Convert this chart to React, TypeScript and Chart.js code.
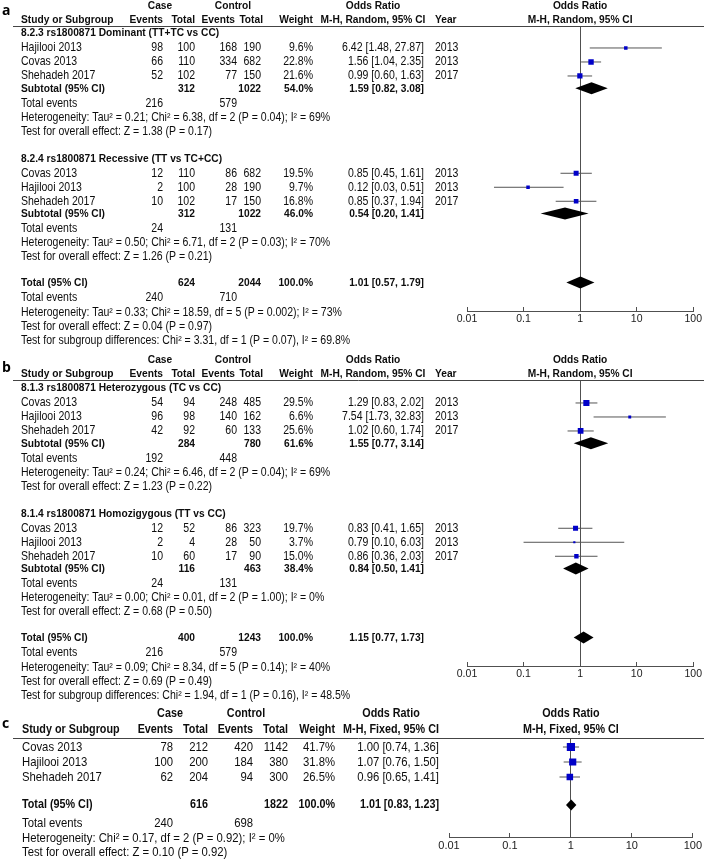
import React, { useEffect, useRef } from "react";
import { Chart, registerables } from "chart.js";

Chart.register(...registerables);

const FONT = '"Liberation Sans", Arial, Helvetica, sans-serif';

// ---------- axis ----------
const tickValues = [0.01, 0.1, 1, 10, 100];
const tickLabels = ["0.01", "0.1", "1", "10", "100"];

// ---------- panel a : 8.2.3 ----------
const a1Title = "8.2.3 rs1800871 Dominant (TT+TC vs CC)";
const a1Studies = ["Hajilooi 2013", "Covas 2013", "Shehadeh 2017"];
const a1CaseEvents = [98, 66, 52];
const a1CaseTotal = [100, 110, 102];
const a1CtrlEvents = [168, 334, 77];
const a1CtrlTotal = [190, 682, 150];
const a1Weight = [9.6, 22.8, 21.6];
const a1OR = [6.42, 1.56, 0.99];
const a1Low = [1.48, 1.04, 0.6];
const a1High = [27.87, 2.35, 1.63];
const a1Year = [2013, 2013, 2017];
const a1Subtotal = [312, 1022, 54.0, 1.59, 0.82, 3.08];
const a1TotalEvents = [216, 579];
const a1Stats = [
  "Heterogeneity: Tau² = 0.21; Chi² = 6.38, df = 2 (P = 0.04); I² = 69%",
  "Test for overall effect: Z = 1.38 (P = 0.17)",
];

// ---------- panel a : 8.2.4 ----------
const a2Title = "8.2.4 rs1800871 Recessive (TT vs TC+CC)";
const a2Studies = ["Covas 2013", "Hajilooi 2013", "Shehadeh 2017"];
const a2CaseEvents = [12, 2, 10];
const a2CaseTotal = [110, 100, 102];
const a2CtrlEvents = [86, 28, 17];
const a2CtrlTotal = [682, 190, 150];
const a2Weight = [19.5, 9.7, 16.8];
const a2OR = [0.85, 0.12, 0.85];
const a2Low = [0.45, 0.03, 0.37];
const a2High = [1.61, 0.51, 1.94];
const a2Year = [2013, 2013, 2017];
const a2Subtotal = [312, 1022, 46.0, 0.54, 0.2, 1.41];
const a2TotalEvents = [24, 131];
const a2Stats = [
  "Heterogeneity: Tau² = 0.50; Chi² = 6.71, df = 2 (P = 0.03); I² = 70%",
  "Test for overall effect: Z = 1.26 (P = 0.21)",
];

// ---------- panel a : total ----------
const aTotal = [624, 2044, 100.0, 1.01, 0.57, 1.79];
const aTotalEvents = [240, 710];
const aTotalStats = [
  "Heterogeneity: Tau² = 0.33; Chi² = 18.59, df = 5 (P = 0.002); I² = 73%",
  "Test for overall effect: Z = 0.04 (P = 0.97)",
  "Test for subgroup differences: Chi² = 3.31, df = 1 (P = 0.07), I² = 69.8%",
];

// ---------- panel b : 8.1.3 ----------
const b1Title = "8.1.3 rs1800871 Heterozygous (TC vs CC)";
const b1Studies = ["Covas 2013", "Hajilooi 2013", "Shehadeh 2017"];
const b1CaseEvents = [54, 96, 42];
const b1CaseTotal = [94, 98, 92];
const b1CtrlEvents = [248, 140, 60];
const b1CtrlTotal = [485, 162, 133];
const b1Weight = [29.5, 6.6, 25.6];
const b1OR = [1.29, 7.54, 1.02];
const b1Low = [0.83, 1.73, 0.6];
const b1High = [2.02, 32.83, 1.74];
const b1Year = [2013, 2013, 2017];
const b1Subtotal = [284, 780, 61.6, 1.55, 0.77, 3.14];
const b1TotalEvents = [192, 448];
const b1Stats = [
  "Heterogeneity: Tau² = 0.24; Chi² = 6.46, df = 2 (P = 0.04); I² = 69%",
  "Test for overall effect: Z = 1.23 (P = 0.22)",
];

// ---------- panel b : 8.1.4 ----------
const b2Title = "8.1.4 rs1800871 Homozigygous (TT vs CC)";
const b2Studies = ["Covas 2013", "Hajilooi 2013", "Shehadeh 2017"];
const b2CaseEvents = [12, 2, 10];
const b2CaseTotal = [52, 4, 60];
const b2CtrlEvents = [86, 28, 17];
const b2CtrlTotal = [323, 50, 90];
const b2Weight = [19.7, 3.7, 15.0];
const b2OR = [0.83, 0.79, 0.86];
const b2Low = [0.41, 0.1, 0.36];
const b2High = [1.65, 6.03, 2.03];
const b2Year = [2013, 2013, 2017];
const b2Subtotal = [116, 463, 38.4, 0.84, 0.5, 1.41];
const b2TotalEvents = [24, 131];
const b2Stats = [
  "Heterogeneity: Tau² = 0.00; Chi² = 0.01, df = 2 (P = 1.00); I² = 0%",
  "Test for overall effect: Z = 0.68 (P = 0.50)",
];

// ---------- panel b : total ----------
const bTotal = [400, 1243, 100.0, 1.15, 0.77, 1.73];
const bTotalEvents = [216, 579];
const bTotalStats = [
  "Heterogeneity: Tau² = 0.09; Chi² = 8.34, df = 5 (P = 0.14); I² = 40%",
  "Test for overall effect: Z = 0.69 (P = 0.49)",
  "Test for subgroup differences: Chi² = 1.94, df = 1 (P = 0.16), I² = 48.5%",
];

// ---------- panel c ----------
const cStudies = ["Covas 2013", "Hajilooi 2013", "Shehadeh 2017"];
const cCaseEvents = [78, 100, 62];
const cCaseTotal = [212, 200, 204];
const cCtrlEvents = [420, 184, 94];
const cCtrlTotal = [1142, 380, 300];
const cWeight = [41.7, 31.8, 26.5];
const cOR = [1.0, 1.07, 0.96];
const cLow = [0.74, 0.76, 0.65];
const cHigh = [1.36, 1.5, 1.41];
const cTotal = [616, 1822, 100.0, 1.01, 0.83, 1.23];
const cTotalEvents = [240, 698];
const cTotalStats = [
  "Heterogeneity: Chi² = 0.17, df = 2 (P = 0.92); I² = 0%",
  "Test for overall effect: Z = 0.10 (P = 0.92)",
];

// ---------- types ----------
interface Group {
  title: string | null;
  names: string[];
  ce: number[];
  ct: number[];
  oe: number[];
  ot: number[];
  w: number[];
  or: number[];
  lo: number[];
  hi: number[];
  year: number[] | null;
  sub: number[] | null;
  events: number[] | null;
  stats: string[];
}

function group(
  title: string | null,
  names: string[],
  ce: number[],
  ct: number[],
  oe: number[],
  ot: number[],
  w: number[],
  or: number[],
  lo: number[],
  hi: number[],
  year: number[] | null,
  sub: number[] | null,
  events: number[] | null,
  stats: string[]
): Group {
  return { title, names, ce, ct, oe, ot, w, or, lo, hi, year, sub, events, stats };
}

interface Steps {
  afterTitle: number;
  study: number;
  toSub: number;
  toEvents: number;
  stat: number;
  groupGap: number;
  toTotal: number;
  totalToEvents: number;
  totalToHet: number;
  totalStat: number;
}

interface Cols {
  study: number;
  caseEv: number;
  caseTot: number;
  ctrlEv: number;
  ctrlTot: number;
  ctrlEvHead: number;
  ctrlTotHead: number;
  weight: number;
  orR: number;
  year: number;
  caseHead: number;
  ctrlHead: number;
  orHead: number;
}

interface PanelSpec {
  top: number;
  height: number;
  label: string;
  labelX: number;
  labelBaseline: number;
  y0: number;
  lineH: number;
  headerLine: number;
  axisY: number;
  h1: number;
  h2: number;
  plotLeft: number;
  plotRight: number;
  lineLeft: number;
  lineRight: number;
  fontR: number;
  sxR: number;
  fontB: number;
  sxB: number;
  tickFont: number;
  boxK: number;
  diamondH: number;
  cols: Cols;
  method: string;
  groups: Group[];
  total: number[];
  totalEvents: number[];
  totalStats: string[];
  steps: Steps;
}

const colsAB: Cols = {
  study: 21,
  caseEv: 163,
  caseTot: 195,
  ctrlEv: 237,
  ctrlTot: 261,
  ctrlEvHead: 235,
  ctrlTotHead: 263,
  weight: 313,
  orR: 424,
  year: 435,
  caseHead: 160,
  ctrlHead: 233,
  orHead: 373,
};

const stepsAB: Steps = {
  afterTitle: 1.07,
  study: 1,
  toSub: 0.88,
  toEvents: 1.07,
  stat: 1,
  groupGap: 1.93,
  toTotal: 1.86,
  totalToEvents: 1.07,
  totalToHet: 1.07,
  totalStat: 1,
};

const panels: PanelSpec[] = [
  {
    top: 0,
    height: 350,
    label: "a",
    labelX: 2,
    labelBaseline: 15,
    y0: 33,
    lineH: 14,
    headerLine: 26,
    axisY: 311,
    h1: 6,
    h2: 20,
    plotLeft: 467,
    plotRight: 699,
    lineLeft: 13,
    lineRight: 704,
    fontR: 11.9,
    sxR: 0.885,
    fontB: 11.6,
    sxB: 0.88,
    tickFont: 10.5,
    boxK: 0.8,
    diamondH: 6,
    cols: colsAB,
    method: "M-H, Random, 95% CI",
    groups: [
      group(a1Title, a1Studies, a1CaseEvents, a1CaseTotal, a1CtrlEvents, a1CtrlTotal, a1Weight, a1OR, a1Low, a1High, a1Year, a1Subtotal, a1TotalEvents, a1Stats),
      group(a2Title, a2Studies, a2CaseEvents, a2CaseTotal, a2CtrlEvents, a2CtrlTotal, a2Weight, a2OR, a2Low, a2High, a2Year, a2Subtotal, a2TotalEvents, a2Stats),
    ],
    total: aTotal,
    totalEvents: aTotalEvents,
    totalStats: aTotalStats,
    steps: stepsAB,
  },
  {
    top: 350,
    height: 354,
    label: "b",
    labelX: 2,
    labelBaseline: 372,
    y0: 388,
    lineH: 14,
    headerLine: 380,
    axisY: 666,
    h1: 360,
    h2: 374,
    plotLeft: 467,
    plotRight: 699,
    lineLeft: 13,
    lineRight: 704,
    fontR: 11.9,
    sxR: 0.885,
    fontB: 11.6,
    sxB: 0.88,
    tickFont: 10.5,
    boxK: 0.8,
    diamondH: 6,
    cols: colsAB,
    method: "M-H, Random, 95% CI",
    groups: [
      group(b1Title, b1Studies, b1CaseEvents, b1CaseTotal, b1CtrlEvents, b1CtrlTotal, b1Weight, b1OR, b1Low, b1High, b1Year, b1Subtotal, b1TotalEvents, b1Stats),
      group(b2Title, b2Studies, b2CaseEvents, b2CaseTotal, b2CtrlEvents, b2CtrlTotal, b2Weight, b2OR, b2Low, b2High, b2Year, b2Subtotal, b2TotalEvents, b2Stats),
    ],
    total: bTotal,
    totalEvents: bTotalEvents,
    totalStats: bTotalStats,
    steps: stepsAB,
  },
  {
    top: 704,
    height: 157,
    label: "c",
    labelX: 2,
    labelBaseline: 728,
    y0: 747,
    lineH: 15,
    headerLine: 738,
    axisY: 837,
    h1: 714,
    h2: 730,
    plotLeft: 449,
    plotRight: 698,
    lineLeft: 13,
    lineRight: 704,
    fontR: 13,
    sxR: 0.87,
    fontB: 12.4,
    sxB: 0.87,
    tickFont: 11,
    boxK: 0.9,
    diamondH: 5.5,
    cols: {
      study: 22,
      caseEv: 173,
      caseTot: 208,
      ctrlEv: 253,
      ctrlTot: 288,
      ctrlEvHead: 253,
      ctrlTotHead: 288,
      weight: 335,
      orR: 439,
      year: -1,
      caseHead: 170,
      ctrlHead: 246,
      orHead: 391,
    },
    method: "M-H, Fixed, 95% CI",
    groups: [
      group(null, cStudies, cCaseEvents, cCaseTotal, cCtrlEvents, cCtrlTotal, cWeight, cOR, cLow, cHigh, null, null, null, []),
    ],
    total: cTotal,
    totalEvents: cTotalEvents,
    totalStats: cTotalStats,
    steps: {
      afterTitle: 1,
      study: 1,
      toSub: 1,
      toEvents: 1,
      stat: 1,
      groupGap: 2,
      toTotal: 1.87,
      totalToEvents: 1.2,
      totalToHet: 1.0,
      totalStat: 0.93,
    },
  },
];

interface Item {
  t: string;
  x: number;
  s: number;
  a: CanvasTextAlign;
  b: boolean;
}

const ciText = (or: number, lo: number, hi: number) =>
  `${or.toFixed(2)} [${lo.toFixed(2)}, ${hi.toFixed(2)}]`;

function build(p: PanelSpec) {
  const items: Item[] = [];
  const boxes: { x: number; y: number; r: number }[] = [];
  const cis: { lo: number; hi: number; y: number }[] = [];
  const diamonds: { or: number; lo: number; hi: number; y: number }[] = [];
  const c = p.cols;
  const st = p.steps;
  const T = (t: string, x: number, s: number, a: CanvasTextAlign, b = false) =>
    items.push({ t, x, s, a, b });

  const h1 = (p.h1 - p.y0) / p.lineH;
  const h2 = (p.h2 - p.y0) / p.lineH;
  T("Case", c.caseHead, h1, "center", true);
  T("Control", c.ctrlHead, h1, "center", true);
  T("Odds Ratio", c.orHead, h1, "center", true);
  T("Study or Subgroup", c.study, h2, "left", true);
  T("Events", c.caseEv, h2, "right", true);
  T("Total", c.caseTot, h2, "right", true);
  T("Events", c.ctrlEvHead, h2, "right", true);
  T("Total", c.ctrlTotHead, h2, "right", true);
  T("Weight", c.weight, h2, "right", true);
  T(p.method, c.orHead, h2, "center", true);
  if (c.year > 0) T("Year", c.year, h2, "left", true);

  let s = 0;
  p.groups.forEach((g, gi) => {
    if (gi > 0) s += st.groupGap;
    if (g.title) {
      T(g.title, c.study, s, "left", true);
      s += st.afterTitle;
    }
    g.names.forEach((name, i) => {
      if (i > 0) s += st.study;
      T(name, c.study, s, "left");
      T(String(g.ce[i]), c.caseEv, s, "right");
      T(String(g.ct[i]), c.caseTot, s, "right");
      T(String(g.oe[i]), c.ctrlEv, s, "right");
      T(String(g.ot[i]), c.ctrlTot, s, "right");
      T(g.w[i].toFixed(1) + "%", c.weight, s, "right");
      T(ciText(g.or[i], g.lo[i], g.hi[i]), c.orR, s, "right");
      if (g.year) T(String(g.year[i]), c.year, s, "left");
      boxes.push({ x: g.or[i], y: s, r: p.boxK * Math.sqrt(g.w[i]) });
      cis.push({ lo: g.lo[i], hi: g.hi[i], y: s });
    });
    if (g.sub) {
      s += st.toSub;
      T("Subtotal (95% CI)", c.study, s, "left", true);
      T(String(g.sub[0]), c.caseTot, s, "right", true);
      T(String(g.sub[1]), c.ctrlTot, s, "right", true);
      T(g.sub[2].toFixed(1) + "%", c.weight, s, "right", true);
      T(ciText(g.sub[3], g.sub[4], g.sub[5]), c.orR, s, "right", true);
      diamonds.push({ or: g.sub[3], lo: g.sub[4], hi: g.sub[5], y: s });
    }
    if (g.events) {
      s += st.toEvents;
      T("Total events", c.study, s, "left");
      T(String(g.events[0]), c.caseEv, s, "right");
      T(String(g.events[1]), c.ctrlEv, s, "right");
    }
    g.stats.forEach((t) => {
      s += st.stat;
      T(t, c.study, s, "left");
    });
  });

  s += st.toTotal;
  T("Total (95% CI)", c.study, s, "left", true);
  T(String(p.total[0]), c.caseTot, s, "right", true);
  T(String(p.total[1]), c.ctrlTot, s, "right", true);
  T(p.total[2].toFixed(1) + "%", c.weight, s, "right", true);
  T(ciText(p.total[3], p.total[4], p.total[5]), c.orR, s, "right", true);
  diamonds.push({ or: p.total[3], lo: p.total[4], hi: p.total[5], y: s });

  s += st.totalToEvents;
  T("Total events", c.study, s, "left");
  T(String(p.totalEvents[0]), c.caseEv, s, "right");
  T(String(p.totalEvents[1]), c.ctrlEv, s, "right");
  p.totalStats.forEach((t, i) => {
    s += i === 0 ? st.totalToHet : st.totalStat;
    T(t, c.study, s, "left");
  });

  return { items, boxes, cis, diamonds };
}

const X_AXIS_H = 20;

function ForestPanel({ p }: { p: PanelSpec }) {
  const ref = useRef<HTMLCanvasElement | null>(null);

  useEffect(() => {
    const canvas = ref.current;
    if (!canvas) return;
    const { items, boxes, cis, diamonds } = build(p);

    const drawText = (
      ctx: CanvasRenderingContext2D,
      t: string,
      x: number,
      y: number,
      a: CanvasTextAlign,
      bold: boolean
    ) => {
      ctx.save();
      ctx.font = `${bold ? "bold " : ""}${bold ? p.fontB : p.fontR}px ${FONT}`;
      ctx.textAlign = a;
      ctx.textBaseline = "middle";
      ctx.translate(x, y);
      ctx.scale(bold ? p.sxB : p.sxR, 1);
      ctx.fillText(t, 0, 0);
      ctx.restore();
    };

    const tablePlugin = {
      id: "forestTable",
      afterDatasetsDraw(chart: any) {
        const ctx = chart.ctx as CanvasRenderingContext2D;
        const xs = chart.scales.x;
        const ys = chart.scales.y;
        const ds = chart.data.datasets.find((d: any) => d.isDiamond);
        if (!ds) return;
        ctx.save();
        ctx.fillStyle = "#000";
        (ds.data as any[]).forEach((d) => {
          const xl = xs.getPixelForValue(d.lo);
          const xc = xs.getPixelForValue(d.x);
          const xr = xs.getPixelForValue(d.hi);
          const yc = ys.getPixelForValue(d.y);
          ctx.beginPath();
          ctx.moveTo(xl, yc);
          ctx.lineTo(xc, yc - p.diamondH);
          ctx.lineTo(xr, yc);
          ctx.lineTo(xc, yc + p.diamondH);
          ctx.closePath();
          ctx.fill();
        });
        ctx.restore();
      },
      afterDraw(chart: any) {
        const ctx = chart.ctx as CanvasRenderingContext2D;
        const ys = chart.scales.y;
        const area = chart.chartArea;
        ctx.save();
        // header rule
        ctx.strokeStyle = "#444444";
        ctx.lineWidth = 1;
        const ly = Math.round(p.headerLine - p.top) + 0.5;
        ctx.beginPath();
        ctx.moveTo(p.lineLeft, ly);
        ctx.lineTo(p.lineRight, ly);
        ctx.stroke();
        // table text
        ctx.fillStyle = "#0d0d0d";
        items.forEach((it) => {
          drawText(ctx, it.t, it.x, ys.getPixelForValue(it.s), it.a, it.b);
        });
        // plot headers
        const cx = (area.left + area.right) / 2;
        drawText(ctx, "Odds Ratio", cx, ys.getPixelForValue((p.h1 - p.y0) / p.lineH), "center", true);
        drawText(ctx, p.method, cx, ys.getPixelForValue((p.h2 - p.y0) / p.lineH), "center", true);
        // panel label
        ctx.font = `bold 14px "Open Sans", ${FONT}`;
        ctx.textAlign = "left";
        ctx.textBaseline = "alphabetic";
        ctx.fillStyle = "#000";
        ctx.fillText(p.label, p.labelX, p.labelBaseline - p.top);
        ctx.restore();
      },
    };

    const datasets: any[] = [
      {
        data: boxes.map((b) => ({ x: b.x, y: b.y })),
        pointStyle: "rect",
        pointRadius: boxes.map((b) => b.r),
        pointBackgroundColor: "#0000c8",
        pointBorderColor: "#0000c8",
        pointBorderWidth: 0,
        showLine: false,
        order: 0,
      },
      ...cis.map((c) => ({
        data: [
          { x: c.lo, y: c.y },
          { x: c.hi, y: c.y },
        ],
        showLine: true,
        borderColor: "#555555",
        borderWidth: 1,
        pointRadius: 0,
        order: 1,
      })),
      {
        isDiamond: true,
        data: diamonds.map((d) => ({ x: d.or, y: d.y, lo: d.lo, hi: d.hi })),
        pointRadius: 0,
        showLine: false,
        order: 2,
      },
    ];

    const chart = new Chart(canvas, {
      type: "scatter",
      data: { datasets },
      options: {
        responsive: false,
        maintainAspectRatio: false,
        animation: false,
        devicePixelRatio: 1,
        events: [],
        layout: {
          padding: {
            left: p.plotLeft,
            right: 708 - p.plotRight,
            top: p.headerLine - p.top,
            bottom: p.top + p.height - p.axisY - X_AXIS_H,
          },
        },
        plugins: {
          legend: { display: false },
          tooltip: { enabled: false },
          title: { display: false },
        },
        scales: {
          x: {
            type: "logarithmic",
            min: 0.01,
            max: 100,
            position: "bottom",
            afterBuildTicks: (ax: any) => {
              ax.ticks = tickValues.map((v) => ({ value: v }));
            },
            afterFit: (ax: any) => {
              ax.height = X_AXIS_H;
            },
            ticks: {
              callback: (_v: any, i: number) => tickLabels[i],
              autoSkip: false,
              maxRotation: 0,
              minRotation: 0,
              padding: 6,
              color: "#1a1a1a",
              font: { family: FONT, size: p.tickFont },
            },
            grid: {
              color: (ctx: any) =>
                ctx.tick && ctx.tick.value === 1 ? "#505050" : "rgba(0,0,0,0)",
              tickColor: "#505050",
              tickLength: -4,
              drawTicks: true,
              lineWidth: 1,
            },
            border: { display: true, color: "#505050", width: 1 },
          },
          y: {
            type: "linear",
            display: false,
            reverse: true,
            min: (p.headerLine - p.y0) / p.lineH,
            max: (p.axisY - p.y0) / p.lineH,
          },
        },
      } as any,
      plugins: [tablePlugin as any],
    });

    return () => chart.destroy();
  }, [p]);

  return (
    <canvas
      ref={ref}
      width={708}
      height={p.height}
      style={{
        position: "absolute",
        left: 0,
        top: p.top,
        width: 708,
        height: p.height,
        display: "block",
      }}
    />
  );
}

export default function App() {
  return (
    <div
      style={{
        position: "absolute",
        left: 0,
        top: 0,
        width: 708,
        height: 861,
        background: "#ffffff",
        overflow: "hidden",
      }}
    >
      {panels.map((p) => (
        <ForestPanel key={p.label} p={p} />
      ))}
    </div>
  );
}
